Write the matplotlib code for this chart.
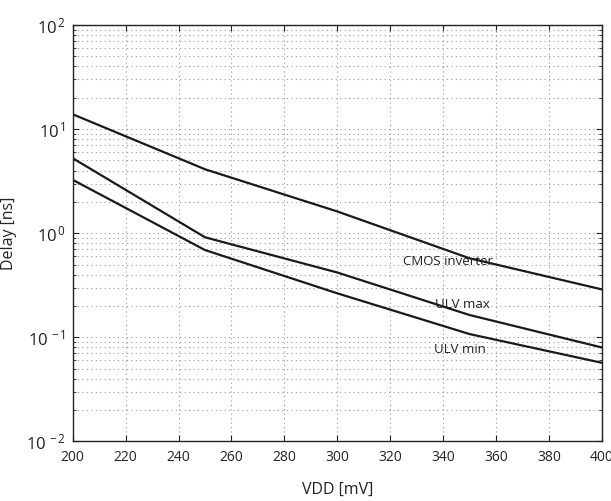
import matplotlib
matplotlib.use("Agg")
import matplotlib.pyplot as plt
from matplotlib.ticker import LogLocator, MultipleLocator, NullFormatter, FuncFormatter
import numpy as np

vdd = [200, 250, 300, 350, 400]
cmos = [13.9, 4.12, 1.62, 0.575, 0.289]
ulv_max = [5.26, 0.915, 0.42, 0.164, 0.080]
ulv_min = [3.26, 0.69, 0.265, 0.1076, 0.057]

labels = ["CMOS inverter", "ULV max", "ULV min"]
label_pos = [(324.8, 0.53), (336.9, 0.205), (336.5, 0.0772)]

plt.rcParams['font.family'] = ['Open Sans', 'DejaVu Sans']
plt.rcParams['mathtext.fontset'] = 'custom'
plt.rcParams['mathtext.rm'] = 'Open Sans'
plt.rcParams['mathtext.it'] = 'Open Sans'
plt.rcParams['mathtext.default'] = 'regular'

fig = plt.figure(figsize=(6.11, 5.01), dpi=100)
ax = fig.add_axes([0.119, 0.1188, 0.866, 0.8312])

for s in (cmos, ulv_max, ulv_min):
    ax.plot(vdd, s, color='#1a1a1a', lw=1.6)

for t, (x, y) in zip(labels, label_pos):
    ax.text(x, y, t, fontsize=9.5, va='center', ha='left', color='#222222')

ax.set_yscale('log')
ax.set_xlim(200, 400)
ax.set_ylim(1e-2, 1e2)
ax.xaxis.set_major_locator(MultipleLocator(20))
ax.yaxis.set_major_locator(LogLocator(base=10, numticks=10))
ax.yaxis.set_minor_locator(LogLocator(base=10, subs=range(2, 10), numticks=20))
ax.yaxis.set_minor_formatter(NullFormatter())
ax.yaxis.set_major_formatter(FuncFormatter(lambda v, p: r'$10^{\,%d}$' % int(round(np.log10(v)))))

ax.grid(True, which='major', axis='both', linestyle=(0, (1, 3)), color='#999999', lw=0.8)
ax.grid(True, which='minor', axis='y', linestyle=(0, (1, 3)), color='#999999', lw=0.8)

ax.tick_params(which='both', direction='in', top=True, right=True, colors='#222222')
ax.tick_params(axis='x', labelsize=10, pad=6)
ax.tick_params(axis='y', labelsize=12, pad=5)
ax.tick_params(which='major', length=4)
ax.tick_params(which='minor', length=2)
for sp in ax.spines.values():
    sp.set_linewidth(1.0)
    sp.set_color('#222222')

ax.set_xlabel('VDD [mV]', fontsize=11.5, labelpad=12, color='#222222')
ax.set_ylabel('Delay [ns]', fontsize=11.5, color='#222222')
ax.yaxis.set_label_coords(-0.105, 0.5)

fig.savefig('out.png', dpi=100)
